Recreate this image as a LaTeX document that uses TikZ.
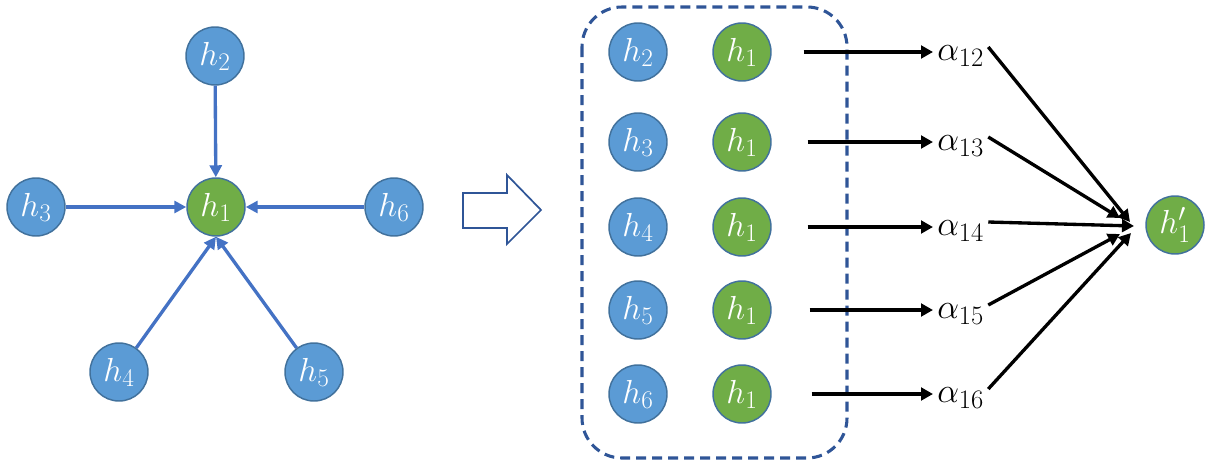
\documentclass[tikz,border=0pt]{standalone}
\usepackage{fix-cm}
\usetikzlibrary{arrows.meta,calc}
\DeclareMathSizes{25}{25}{19}{14}
\DeclareMathSizes{26}{26}{20}{15}
\definecolor{nodeblue}{HTML}{5B9BD5}
\definecolor{nodeborder}{HTML}{41719C}
\definecolor{nodegreen}{HTML}{70AD47}
\definecolor{linkblue}{HTML}{4472C4}
\definecolor{dashblue}{HTML}{2F5597}
\begin{document}
\begin{tikzpicture}[x=0.75pt,y=-0.75pt,
  bnode/.style={circle,fill=nodeblue,draw=nodeborder,line width=1.1pt,minimum size=43.5pt,inner sep=0pt,text=white,font=\fontsize{25}{30}\selectfont},
  gnode/.style={bnode,fill=nodegreen},
  blink/.style={draw=linkblue,line width=2.5pt,-{Triangle[length=9pt,width=9pt]}},
  klink/.style={draw=black,line width=2.5pt,-{Triangle[length=9pt,width=9.5pt]}},
  alab/.style={anchor=west,inner sep=0pt,font=\fontsize{26}{31}\selectfont},
  dashbox/.style={draw=dashblue,line width=2.3pt,dash pattern=on 7.5pt off 4.5pt,rounded corners=30pt},
  hollow/.style={draw=dashblue,line width=1.3pt,fill=white,line join=miter}]
\useasboundingbox (0,0) rectangle (1205,464);

% left graph
\node[gnode] (c) at (216,207) {$h_1$};
\node[bnode] (n2) at (215,56) {$h_2$};
\node[bnode] (n3) at (36,207) {$h_3$};
\node[bnode] (n6) at (394,207) {$h_6$};
\node[bnode] (n4) at (119,372) {$h_4$};
\node[bnode] (n5) at (314,372) {$h_5$};
\draw[blink] (n2) -- (c);
\draw[blink] (n3) -- (c);
\draw[blink] (n6) -- (c);
\draw[blink] (n4) -- (c.south);
\draw[blink] (n5) -- (c.south);

% hollow arrow
\draw[hollow] (463,193) -- (507,193) -- (507,175) -- (541,210) -- (507,244) -- (507,228) -- (463,228) -- cycle;

% dashed box
\draw[dashbox] (582,7) rectangle (847,458);

% output node
\node[gnode] (hp) at (1175,225) {$h_1'$};

\foreach \i/\y/\s/\tx/\ty in {2/52/32/1130/222,3/142/36/1120/218,4/227/36/1134/226,5/310/38/1120/234,6/394/40/1131/233} {
  \node[bnode] (r\i) at (638,\y) {$h_\i$};
  \node[gnode] (g\i) at (742,\y) {$h_1$};
  \node[alab] (a\i) at (937,\y+4) {$\alpha_{1\i}$};
  \draw[klink,shorten >=3pt] ([xshift=\s*0.75pt]g\i.east) -- (g\i -| a\i.west);
  \coordinate (t\i) at (\tx,\ty);
  \draw[klink] ([shift={(4,-9)}]a\i.east) -- (t\i);
}
\end{tikzpicture}
\end{document}
